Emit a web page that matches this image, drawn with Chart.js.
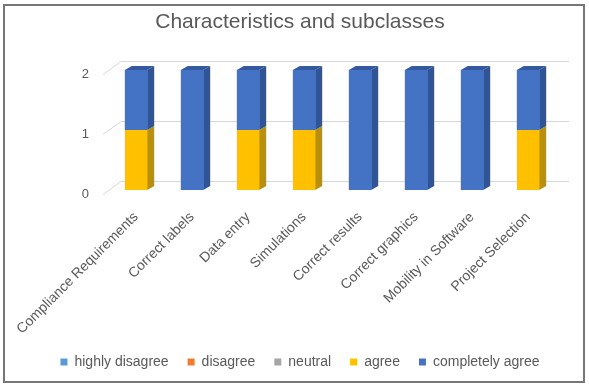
<!DOCTYPE html>
<html><head><meta charset="utf-8">
<script src="https://cdn.jsdelivr.net/npm/chart.js@4/dist/chart.umd.min.js"></script>
<style>html,body{margin:0;padding:0;background:#fff;}</style>
</head><body>
<canvas id="c" width="589" height="389"></canvas>
<script>
const categories = ["Compliance Requirements", "Correct labels", "Data entry", "Simulations", "Correct results", "Correct graphics", "Mobility in Software", "Project Selection"];
const highlyDisagree = [0, 0, 0, 0, 0, 0, 0, 0];
const disagree = [0, 0, 0, 0, 0, 0, 0, 0];
const neutral = [0, 0, 0, 0, 0, 0, 0, 0];
const agree = [1, 0, 1, 1, 0, 0, 0, 1];
const completelyAgree = [1, 2, 1, 1, 2, 2, 2, 1];
const yTickValues = [0, 1, 2];

const FONT = "'Liberation Sans', Arial, sans-serif";
const TXT = '#595959';
const depth = {dx: 7, dy: -4};
const wall = {fx: -5, fy: 4, dx: 13, dy: -9};
const shade = {
  '#4472C4': {side: '#2F5597', top: '#34599F'},
  '#FFC000': {side: '#B8900A', top: '#D9A300'}
};

const fake3d = {
  id: 'fake3d',
  beforeDraw(chart) {
    const ctx = chart.ctx;
    ctx.save();
    ctx.fillStyle = '#fff';
    ctx.fillRect(0, 0, chart.width, chart.height);
    ctx.strokeStyle = '#767676';
    ctx.lineWidth = 2;
    ctx.strokeRect(4, 5, 580, 377);
    ctx.restore();
  },
  beforeDatasetsDraw(chart) {
    const {ctx, chartArea: a, scales: {y}} = chart;
    ctx.save();
    ctx.strokeStyle = '#D9D9D9';
    ctx.lineWidth = 1;
    y.ticks.forEach(t => {
      const py = Math.round(y.getPixelForValue(t.value)) + 0.5;
      ctx.beginPath();
      ctx.moveTo(a.left + wall.fx, py + wall.fy);
      ctx.lineTo(a.left + wall.dx, py + wall.dy);
      ctx.lineTo(a.right + wall.dx, py + wall.dy);
      ctx.stroke();
    });
    ctx.restore();
  },
  afterDatasetsDraw(chart) {
    const ctx = chart.ctx;
    const tops = {};
    ctx.save();
    chart.data.datasets.forEach((ds, di) => {
      const meta = chart.getDatasetMeta(di);
      const sh = shade[ds.backgroundColor];
      if (!sh || meta.hidden) return;
      meta.data.forEach((bar, i) => {
        if (!ds.data[i]) return;
        const p = bar.getProps(['x', 'y', 'base', 'width'], true);
        const l = p.x - p.width / 2, r = p.x + p.width / 2;
        const top = Math.min(p.y, p.base), bot = Math.max(p.y, p.base);
        ctx.fillStyle = sh.side;
        ctx.beginPath();
        ctx.moveTo(r, top);
        ctx.lineTo(r + depth.dx, top + depth.dy);
        ctx.lineTo(r + depth.dx, bot + depth.dy);
        ctx.lineTo(r, bot);
        ctx.closePath();
        ctx.fill();
        if (!tops[i] || top < tops[i].top) tops[i] = {l, r, top, sh};
      });
    });
    Object.values(tops).forEach(t => {
      ctx.fillStyle = t.sh.top;
      ctx.beginPath();
      ctx.moveTo(t.l, t.top);
      ctx.lineTo(t.l + depth.dx, t.top + depth.dy);
      ctx.lineTo(t.r + depth.dx, t.top + depth.dy);
      ctx.lineTo(t.r, t.top);
      ctx.closePath();
      ctx.fill();
    });
    ctx.restore();
  }
};

const mk = (label, data, color) => ({label, data, backgroundColor: color, borderWidth: 0, barPercentage: 0.4, categoryPercentage: 1});

new Chart(document.getElementById('c'), {
  type: 'bar',
  data: {
    labels: categories,
    datasets: [
      mk('highly disagree', highlyDisagree, '#5B9BD5'),
      mk('disagree', disagree, '#ED7D31'),
      mk('neutral', neutral, '#A5A5A5'),
      mk('agree', agree, '#FFC000'),
      mk('completely agree', completelyAgree, '#4472C4')
    ]
  },
  options: {
    responsive: false,
    devicePixelRatio: 1,
    animation: false,
    layout: {padding: {left: 11, right: 0, top: 0, bottom: 10}},
    plugins: {
      title: {display: true, text: 'Characteristics and subclasses', color: TXT,
        font: {family: FONT, size: 21, weight: 'normal'}, padding: {top: 9.5, bottom: 35.3}},
      legend: {position: 'bottom', labels: {boxWidth: 7, boxHeight: 7, padding: 19, color: TXT,
        font: {family: FONT, size: 14}}},
      tooltip: {enabled: false}
    },
    scales: {
      x: {stacked: true,
        ticks: {color: TXT, font: {family: FONT, size: 14}, minRotation: 45, maxRotation: 45, padding: 19, autoSkip: false},
        grid: {display: false, drawTicks: false}, border: {display: false},
        afterFit(s) { s.height = 146; s.paddingLeft = 0; s.paddingRight = 0; }},
      y: {stacked: true, min: 0, max: 2,
        afterBuildTicks(s) { s.ticks = yTickValues.map(v => ({value: v})); },
        ticks: {color: TXT, font: {family: FONT, size: 13}, padding: 19, labelOffset: 4},
        grid: {display: false, drawTicks: false}, border: {display: false},
        afterFit(s) { s.width = 97; }},
      yRight: {position: 'right', display: true, ticks: {display: false},
        grid: {display: false, drawTicks: false}, border: {display: false},
        afterFit(s) { s.width = 33; }}
    }
  },
  plugins: [fake3d]
});
</script>
</body></html>
